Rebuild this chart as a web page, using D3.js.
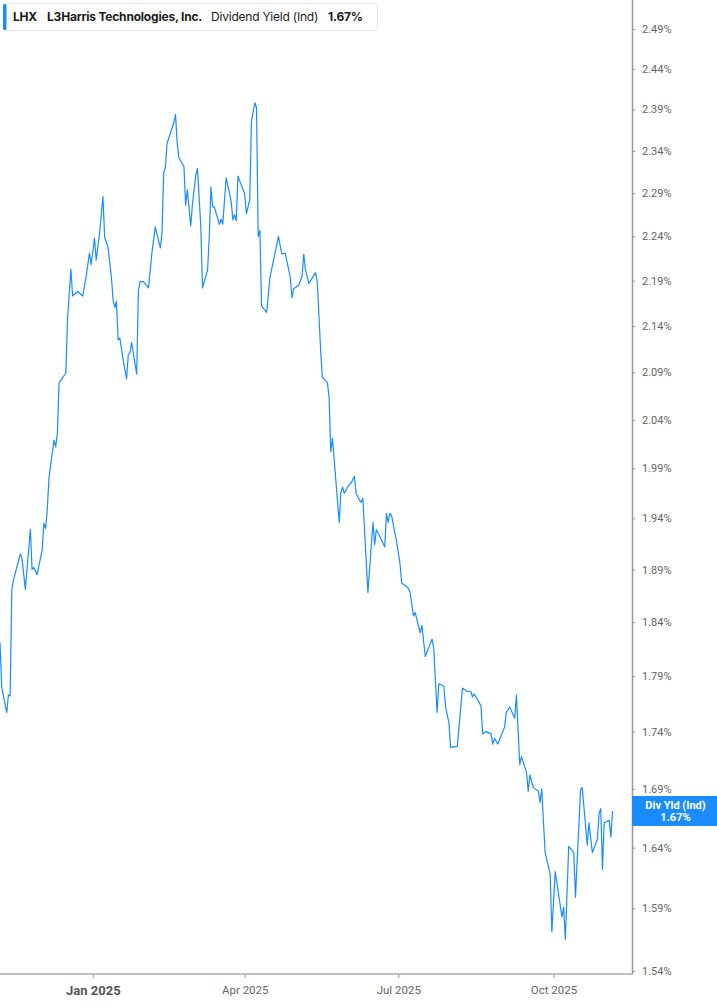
<!DOCTYPE html>
<html>
<head>
<meta charset="utf-8">
<script src="https://cdn.jsdelivr.net/npm/d3@7"></script>
<style>
  html, body { margin: 0; padding: 0; background: #fff; }
  svg { display: block; font-family: Inter, Roboto, "Noto Sans", sans-serif; }
</style>
</head>
<body>
<svg id="chart" width="717" height="1005"></svg>
<script>
const ticker = "LHX";
const company = "L3Harris Technologies, Inc.";
const metric = "Dividend Yield (Ind)";
const shortMetric = "Div Yld (Ind)";

const dates = [
  "2024-11-07","2024-11-08","2024-11-11","2024-11-12","2024-11-13","2024-11-14","2024-11-15","2024-11-19","2024-11-20","2024-11-22",
  "2024-11-25","2024-11-26","2024-11-27","2024-11-29","2024-12-02","2024-12-03","2024-12-04","2024-12-05","2024-12-06","2024-12-09",
  "2024-12-10","2024-12-11","2024-12-12","2024-12-14","2024-12-16","2024-12-17","2024-12-19","2024-12-20","2024-12-23","2024-12-26",
  "2024-12-28","2024-12-30","2024-12-31","2025-01-02","2025-01-03","2025-01-05","2025-01-07","2025-01-08","2025-01-10","2025-01-12",
  "2025-01-13","2025-01-14","2025-01-15","2025-01-16","2025-01-17","2025-01-19","2025-01-21","2025-01-22","2025-01-23","2025-01-24",
  "2025-01-27","2025-01-28","2025-01-29","2025-01-31","2025-02-03","2025-02-05","2025-02-07","2025-02-10","2025-02-11","2025-02-12",
  "2025-02-13","2025-02-14","2025-02-15","2025-02-18","2025-02-19","2025-02-20","2025-02-21","2025-02-24","2025-02-25","2025-02-26",
  "2025-02-28","2025-03-01","2025-03-03","2025-03-04","2025-03-06","2025-03-07","2025-03-10","2025-03-11","2025-03-12","2025-03-13",
  "2025-03-14","2025-03-17","2025-03-18","2025-03-19","2025-03-21","2025-03-24","2025-03-25","2025-03-26","2025-03-27","2025-03-28",
  "2025-04-01","2025-04-02","2025-04-04","2025-04-05","2025-04-07","2025-04-08","2025-04-09","2025-04-10","2025-04-11","2025-04-14",
  "2025-04-16","2025-04-21","2025-04-23","2025-04-25","2025-04-28","2025-04-29","2025-04-30","2025-05-03","2025-05-05","2025-05-06",
  "2025-05-07","2025-05-09","2025-05-13","2025-05-14","2025-05-16","2025-05-17","2025-05-20","2025-05-21","2025-05-22","2025-05-23",
  "2025-05-27","2025-05-28","2025-05-29","2025-05-30","2025-06-02","2025-06-03","2025-06-05","2025-06-06","2025-06-08","2025-06-09",
  "2025-06-10","2025-06-13","2025-06-16","2025-06-17","2025-06-18","2025-06-23","2025-06-24","2025-06-25","2025-06-26","2025-06-27",
  "2025-06-30","2025-07-02","2025-07-03","2025-07-07","2025-07-08","2025-07-10","2025-07-11","2025-07-14","2025-07-15","2025-07-17",
  "2025-07-21","2025-07-22","2025-07-24","2025-07-25","2025-07-28","2025-07-29","2025-07-31","2025-08-01","2025-08-05","2025-08-08",
  "2025-08-11","2025-08-13","2025-08-14","2025-08-15","2025-08-19","2025-08-20","2025-08-22","2025-08-25","2025-08-26","2025-08-27",
  "2025-08-29","2025-09-02","2025-09-03","2025-09-05","2025-09-08","2025-09-09","2025-09-11","2025-09-12","2025-09-15","2025-09-16",
  "2025-09-17","2025-09-19","2025-09-22","2025-09-23","2025-09-24","2025-09-26","2025-09-29","2025-09-30","2025-10-02","2025-10-06",
  "2025-10-07","2025-10-08","2025-10-10","2025-10-13","2025-10-14","2025-10-17","2025-10-18","2025-10-21","2025-10-22","2025-10-24",
  "2025-10-27","2025-10-28","2025-10-29","2025-10-30","2025-10-31","2025-11-03","2025-11-04","2025-11-05"
];

const yields = [
  1.821,1.780,1.757,1.773,1.772,1.871,1.880,1.905,1.901,1.871,
  1.929,1.890,1.892,1.885,1.909,1.935,1.930,1.948,1.980,2.019,
  2.012,2.026,2.079,2.084,2.089,2.147,2.203,2.173,2.178,2.173,
  2.194,2.221,2.208,2.238,2.213,2.244,2.286,2.239,2.228,2.194,
  2.169,2.160,2.167,2.125,2.127,2.103,2.083,2.109,2.111,2.122,
  2.088,2.178,2.189,2.189,2.182,2.221,2.251,2.227,2.244,2.314,
  2.320,2.349,2.355,2.374,2.384,2.349,2.332,2.321,2.276,2.294,
  2.252,2.276,2.311,2.319,2.251,2.182,2.202,2.239,2.297,2.274,
  2.274,2.254,2.260,2.254,2.308,2.280,2.259,2.265,2.258,2.310,
  2.289,2.266,2.282,2.376,2.398,2.392,2.240,2.247,2.162,2.155,
  2.194,2.240,2.220,2.221,2.194,2.171,2.181,2.185,2.195,2.220,
  2.202,2.187,2.199,2.189,2.114,2.085,2.079,2.064,2.007,2.021,
  1.936,1.966,1.971,1.965,1.974,1.975,1.982,1.965,1.958,1.956,
  1.960,1.868,1.936,1.914,1.929,1.912,1.945,1.936,1.945,1.943,
  1.917,1.896,1.877,1.872,1.868,1.846,1.849,1.830,1.837,1.808,
  1.824,1.816,1.757,1.783,1.781,1.762,1.748,1.726,1.727,1.779,
  1.776,1.776,1.771,1.774,1.763,1.738,1.740,1.738,1.729,1.734,
  1.729,1.744,1.757,1.762,1.752,1.773,1.711,1.718,1.704,1.688,
  1.702,1.691,1.688,1.678,1.690,1.636,1.618,1.571,1.620,1.583,
  1.591,1.565,1.641,1.636,1.599,1.689,1.691,1.642,1.661,1.636,
  1.647,1.669,1.673,1.622,1.661,1.663,1.649,1.671
];

const yTickValues = [1.54,1.59,1.64,1.69,1.74,1.79,1.84,1.89,1.94,1.99,2.04,2.09,2.14,2.19,2.24,2.29,2.34,2.39,2.44,2.49];
const xTickDates = ["2025-01-01","2025-04-01","2025-07-01","2025-10-01"];
const xTickLabels = ["Jan 2025","Apr 2025","Jul 2025","Oct 2025"];
const xDomain = ["2024-11-07","2025-11-16"];

const parse = d3.utcParse("%Y-%m-%d");
const data = dates.map((d, i) => ({ date: parse(d), value: yields[i] }));

const BLUE = "#1a8cff";
const plotRight = 632, plotBottom = 974;

const svg = d3.select("#chart");

const x = d3.scaleUtc()
  .domain([parse(xDomain[0]), d3.utcHour.offset(parse(xDomain[1]), 12)])
  .range([0, plotRight]);
const y = d3.scaleLog().domain([1.54, 2.49]).range([971, 29]);

// line
const line = d3.line().x(d => x(d.date)).y(d => y(d.value));
svg.append("path")
  .datum(data)
  .attr("fill", "none")
  .attr("stroke", BLUE)
  .attr("stroke-width", 1.2)
  .attr("stroke-linejoin", "round")
  .attr("d", line);

// right axis
const yAxis = d3.axisRight(y)
  .tickValues(yTickValues)
  .tickSize(3)
  .tickPadding(7)
  .tickFormat(d => d.toFixed(2) + "%");
const gy = svg.append("g").attr("transform", `translate(${plotRight},0)`).call(yAxis);
gy.select(".domain").remove();
gy.selectAll(".tick line").attr("stroke", "#888");
gy.selectAll(".tick text").attr("fill", "#666").style("font-size", "11px").style("font-family", "Roboto, sans-serif");
svg.append("line")
  .attr("x1", plotRight + 0.5).attr("x2", plotRight + 0.5)
  .attr("y1", 0).attr("y2", plotBottom)
  .attr("stroke", "#999").attr("stroke-width", 1.5);

// bottom axis
const xAxis = d3.axisBottom(x)
  .tickValues(xTickDates.map(parse))
  .tickSize(4)
  .tickPadding(8)
  .tickFormat((d, i) => xTickLabels[i]);
const gx = svg.append("g").attr("transform", `translate(0,${plotBottom})`).call(xAxis);
gx.select(".domain").remove();
gx.selectAll(".tick line").attr("stroke", "#999");
gx.selectAll(".tick text")
  .attr("fill", (d, i) => i === 0 ? "#555" : "#666")
  .style("font-size", (d, i) => i === 0 ? "13px" : "11.5px")
  .style("font-weight", (d, i) => i === 0 ? "700" : "400")
  .style("font-family", "Roboto, sans-serif");
svg.append("line")
  .attr("x1", 0).attr("x2", plotRight + 1)
  .attr("y1", plotBottom).attr("y2", plotBottom)
  .attr("stroke", "#aaa").attr("stroke-width", 1.5);

// last value label
const last = data[data.length - 1];
const ly = y(last.value);
const lab = svg.append("g");
lab.append("rect")
  .attr("x", plotRight).attr("y", ly - 15)
  .attr("width", 717 - plotRight).attr("height", 30)
  .attr("fill", BLUE);
lab.append("text")
  .attr("x", (plotRight + 717) / 2 + 1).attr("y", ly - 2)
  .attr("text-anchor", "middle").attr("fill", "#fff")
  .style("font-size", "11px").style("font-weight", "700")
  .style("font-family", "Roboto, sans-serif")
  .text(shortMetric);
lab.append("text")
  .attr("x", (plotRight + 717) / 2 + 1).attr("y", ly + 10)
  .attr("text-anchor", "middle").attr("fill", "#fff")
  .style("font-size", "11px").style("font-weight", "700")
  .style("font-family", "Roboto, sans-serif")
  .text(last.value.toFixed(2) + "%");

// legend
const leg = svg.append("g");
leg.append("rect")
  .attr("x", 3.5).attr("y", 3.5).attr("width", 374).attr("height", 27)
  .attr("rx", 3).attr("fill", "#fff").attr("stroke", "#e6e6e6");
leg.append("rect")
  .attr("x", 3).attr("y", 4).attr("width", 3.5).attr("height", 26)
  .attr("rx", 1.5).attr("fill", BLUE);
const legItems = [
  { t: ticker, x: 13, w: 700 },
  { t: company, x: 47, w: 700 },
  { t: metric, x: 211, w: 400 },
  { t: last.value.toFixed(2) + "%", x: 328, w: 700 }
];
leg.selectAll("text.li").data(legItems).enter().append("text")
  .attr("class", "li")
  .attr("x", d => d.x).attr("y", 21)
  .attr("fill", "#1a1a1a")
  .style("font-size", "12px")
  .style("font-weight", d => d.w)
  .style("font-family", "Inter, Roboto, sans-serif")
  .style("letter-spacing", "-0.2px")
  .text(d => d.t);
</script>
</body>
</html>
